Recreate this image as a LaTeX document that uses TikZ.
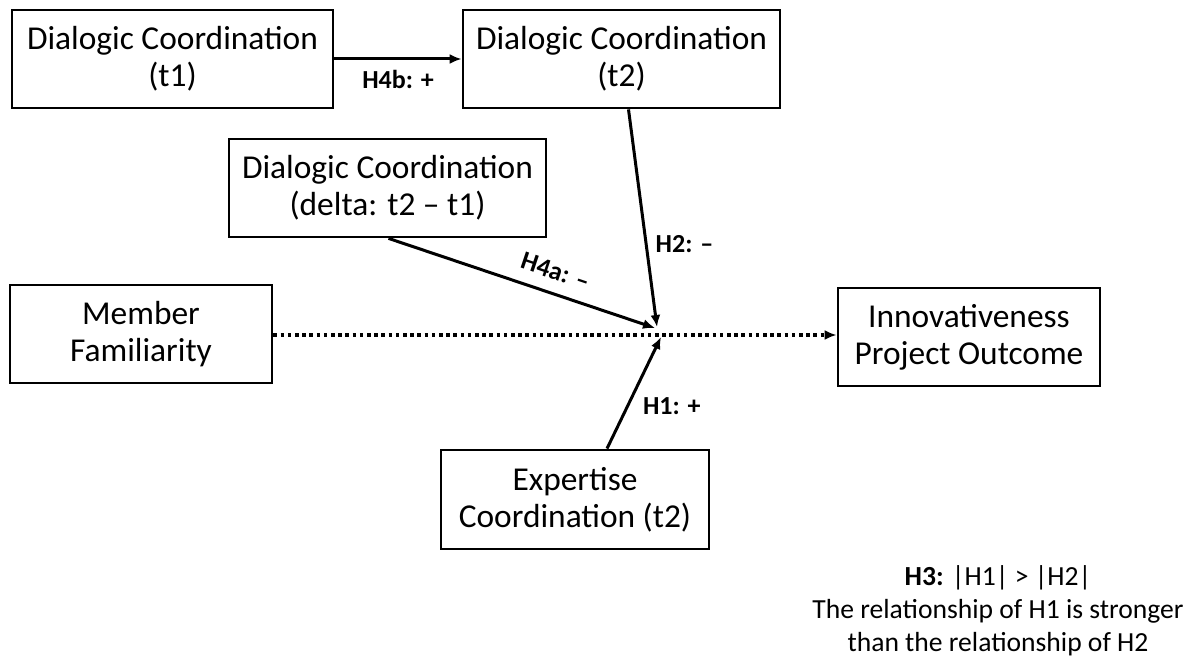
\documentclass[tikz,border=0pt]{standalone}
\usepackage{fontspec}
\setmainfont{Carlito}
\usetikzlibrary{arrows.meta,positioning,calc}
\tikzset{
  path arrow/.style={-{Latex[length=6pt,width=5pt]},draw=black,line width=1.5pt},
  control arrow/.style={path arrow,line cap=butt,dash pattern=on 1.8pt off 1.8pt,line width=1.8pt},
  construct node/.style={draw=black,line width=1.4pt,fill=white,align=center,
    inner sep=3pt,font=\fontsize{16.7}{18.5}\selectfont},
  effect label/.style={font=\fontsize{13}{15}\selectfont\bfseries,inner sep=2pt}
}
\begin{document}
\begin{tikzpicture}[x=0.5pt,y=-0.5pt]
    \useasboundingbox (0,0) rectangle (1194,662);
    % constructs
    \node[construct node,minimum width=160.5pt,minimum height=49pt]
      (dct1) at (172.5,59) {Dialogic Coordination\\(t1)};
    \node[construct node,minimum width=158.5pt,minimum height=49pt]
      (dct2) at (621.5,59) {Dialogic Coordination\\(t2)};
    \node[construct node,minimum width=158.5pt,minimum height=49pt]
      (dcdelta) at (387.5,188) {Dialogic Coordination\\(delta: t2 -- t1)};
    \node[construct node,minimum width=131pt,minimum height=49pt]
      (famil) at (141,334) {Member\\Familiarity};
    \node[construct node,minimum width=131pt,minimum height=49pt]
      (innov) at (969,337) {Innovativeness\\Project Outcome};
    \node[construct node,minimum width=134pt,minimum height=49.5pt]
      (expco) at (575,499.5) {Expertise\\Coordination (t2)};
    \node[align=center,font=\fontsize{13.8}{16.5}\selectfont]
      (h3note) at (998,611) {\textbf{H3:} |H1| > |H2|\\The relationship of H1 is stronger\\than the relationship of H2};
    % moderation points on the main path
    \coordinate (hubA) at (657,327);
    \coordinate (hubB) at (655,328);
    \coordinate (hubC) at (661,337);
    % paths
    \draw[control arrow] (famil.east |- 0,335) -- (innov.west |- 0,335);
    \draw[path arrow] (dct1) -- node[effect label,below=3pt] {H4b: +} (dct2);
    \draw[path arrow] ($(dct2.south)+(7,0)$) -- node[effect label,right=2pt,pos=0.62] {H2: --} (hubA);
    \draw[path arrow] ($(dcdelta.south)+(1,0)$) -- node[effect label,above=4pt,sloped,pos=0.6] {H4a: --} (hubB);
    \draw[path arrow] ($(expco.north)+(32,0)$) -- node[effect label,right=5pt,pos=0.38] {H1: +} (hubC);
  \end{tikzpicture}
\end{document}
